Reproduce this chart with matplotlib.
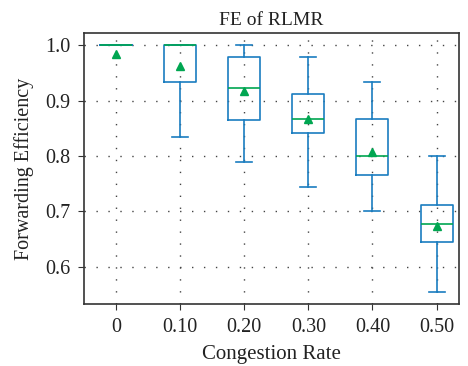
import matplotlib.pyplot as plt

plt.rcParams['font.family'] = ['Liberation Serif', 'DejaVu Serif']

# congestion rates and box statistics
labels = ['0', '0.10', '0.20', '0.30', '0.40', '0.50']
whislo = [1.0, 0.834, 0.789, 0.744, 0.700, 0.555]
q1 = [1.0, 0.933, 0.865, 0.841, 0.766, 0.645]
med = [1.0, 1.0, 0.922, 0.867, 0.800, 0.677]
q3 = [1.0, 1.0, 0.978, 0.912, 0.867, 0.712]
whishi = [1.0, 1.0, 1.0, 0.978, 0.933, 0.800]
means = [0.985, 0.962, 0.918, 0.866, 0.808, 0.674]

stats = []
for i in range(len(labels)):
    stats.append({'label': labels[i], 'whislo': whislo[i], 'q1': q1[i], 'med': med[i],
                  'q3': q3[i], 'whishi': whishi[i], 'mean': means[i], 'fliers': []})

blue = '#1a7dc0'
green = '#00a651'

fig = plt.figure(figsize=(4.68, 3.66), dpi=100)
ax = fig.add_axes([84/468, 1-304/366, 375/468, 271/366])

ax.bxp(stats, positions=range(len(labels)), widths=0.5, showmeans=True,
       boxprops=dict(color=blue, linewidth=1.2),
       whiskerprops=dict(color=blue, linewidth=1.2),
       capprops=dict(color=blue, linewidth=1.2),
       medianprops=dict(color=green, linewidth=1.2),
       meanprops=dict(marker='^', markerfacecolor=green, markeredgecolor=green, markersize=6))

ax.set_xlim(-0.5, 5.35)
ax.set_ylim(0.533, 1.022)
ax.set_yticks([0.6, 0.7, 0.8, 0.9, 1.0])
ax.set_xticks(range(len(labels)))
ax.set_xticklabels(labels)
ax.grid(True, linestyle=(0, (1, 7.6)), color='#444444', linewidth=1.0)
ax.tick_params(labelsize=14.5, direction='out', length=4, color='#333333', pad=6, labelcolor='#222222')
for s in ax.spines.values():
    s.set_color('#333333')
    s.set_linewidth(1.2)

ax.set_title('FE of RLMR', fontsize=14, pad=6, color='#222222')
ax.set_xlabel('Congestion Rate', fontsize=15, labelpad=6, color='#222222')
ax.set_ylabel('Forwarding Efficiency', fontsize=14.5, labelpad=8, color='#222222')

fig.savefig('out.png', dpi=100)
